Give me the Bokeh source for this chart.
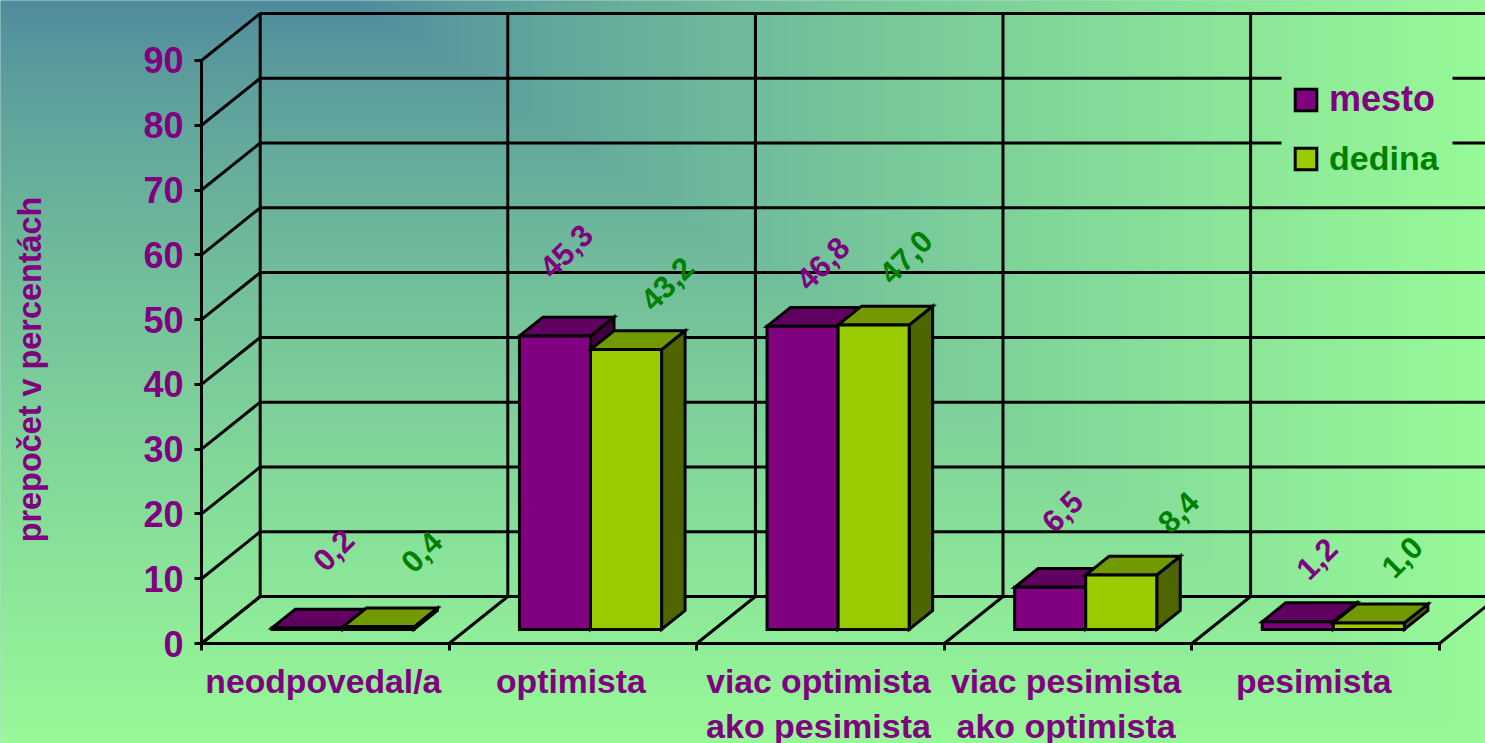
import numpy as np
from bokeh.embed import file_html
from bokeh.resources import INLINE
from bokeh.plotting import figure
from bokeh.models import FixedTicker, Legend, LegendItem, ColumnDataSource
from bokeh.core.properties import value

# ---- data ----
categories = ["neodpovedal/a", "optimista", "viac optimista\nako pesimista",
              "viac pesimista\nako optimista", "pesimista"]
mesto = [0.2, 45.3, 46.8, 6.5, 1.2]
dedina = [0.4, 43.2, 47.0, 8.4, 1.0]
value_ticks = [0, 10, 20, 30, 40, 50, 60, 70, 80, 90]
y_title = "prepočet v percentách"

# ---- layout: offsets of the value labels, in pixels ----
mesto_label_dx = [26, 11, 20, 12, 19]
mesto_label_dy = [-78, -85, -63, -76, -63]
dedina_label_dx = [43, 41, 32, 57, 33]
dedina_label_dy = [-75, -66, -68, -63, -66]

# ---- colours ----
PURPLE, GREEN = "#800080", "#008000"
MESTO = ("#800080", "#600060", "#400040")      # front, top, side
DEDINA = ("#99CC00", "#739900", "#4D6600")
FONT = value("Liberation Sans")

# ---- scales: page pixels of the reference <-> data ----
X0, XU = 201.0, 247.6          # pixel of category 0, pixels per category
Y0, YU = 643.0, 6.478          # pixel of value 0, pixels per value unit
DX, DY = 58.7 / XU, 47.0 / YU  # shift of the back wall, in data units
PAGE_W, PAGE_H = 1485, 743
LEGEND_GAP = (1281, 1452)      # the grid lines stop behind the legend
LEGEND_VALUES = (70, 80)
LABEL_SHIFT = -2 / XU          # the category labels sit a little left of the centre


def px_x(px):
    return (px - X0) / XU


def px_y(py):
    return (Y0 - py) / YU


def proj(cat, val, depth):
    return cat + depth * DX, val + depth * DY


p = figure(width=PAGE_W, height=PAGE_H, output_backend="svg", toolbar_location=None,
           x_range=(px_x(0), px_x(PAGE_W)), y_range=(px_y(PAGE_H), px_y(0)), min_border=0)
p.grid.visible = False
p.outline_line_color = None
p.border_fill_color = "#70B89A"
p.background_fill_color = "#70B89A"

# ---- background gradient ----
GW, GH = 371, 186
xx, yy = np.meshgrid((np.arange(GW) + .5) / GW * PAGE_W, (np.arange(GH) + .5) / GH * PAGE_H)
t = np.maximum(np.clip((xx - 350) / (PAGE_W - 350), 0, 1), yy / PAGE_H) ** 0.75
start, end = np.array([78, 135, 158]), np.array([152, 250, 152])
rgb = start[None, None, :] + (end - start)[None, None, :] * t[:, :, None]
img = np.zeros((GH, GW), dtype=np.uint32)
view = img.view(dtype=np.uint8).reshape((GH, GW, 4))
view[:, :, :3] = rgb[::-1].astype(np.uint8)
view[:, :, 3] = 255
BLEED = 6
p.image_rgba(image=[img], x=px_x(-BLEED), y=px_y(PAGE_H + BLEED),
             dw=(PAGE_W + 2 * BLEED) / XU, dh=(PAGE_H + 2 * BLEED) / YU)

# ---- walls and floor ----
LW = 3
n = len(categories)
xs0, ys0, xs1, ys1 = [], [], [], []


def add_seg(s, e):
    xs0.append(s[0]); ys0.append(s[1]); xs1.append(e[0]); ys1.append(e[1])


for v in value_ticks:
    a, b = proj(0, v, 0), proj(0, v, 1)         # side wall
    c = proj(n, v, 1)                           # back wall
    add_seg(a, b)
    if v in LEGEND_VALUES:
        add_seg(b, (px_x(LEGEND_GAP[0]), b[1]))
        add_seg((px_x(LEGEND_GAP[1]), b[1]), c)
    else:
        add_seg(b, c)
for i in range(n + 1):
    a, b = proj(i, 0, 0), proj(i, 0, 1)         # floor
    c = proj(i, value_ticks[-1], 1)             # back wall
    add_seg(a, b)
    add_seg(b, c)
p.segment(xs0, ys0, xs1, ys1, line_color="black", line_width=LW)

# ---- bars ----
D_FRONT, D_BACK = 0.30, 0.70
HALF = 0.287


def bar_faces(vals, c_from, c_to):
    front, top, side = ([], []), ([], []), ([], [])
    for i, v in enumerate(vals):
        l, r = i + .5 + c_from, i + .5 + c_to
        for face, corners in (
            (front, [(l, 0, D_FRONT), (r, 0, D_FRONT), (r, v, D_FRONT), (l, v, D_FRONT)]),
            (top, [(l, v, D_FRONT), (r, v, D_FRONT), (r, v, D_BACK), (l, v, D_BACK)]),
            (side, [(r, 0, D_FRONT), (r, 0, D_BACK), (r, v, D_BACK), (r, v, D_FRONT)]),
        ):
            pts = [proj(*k) for k in corners]
            face[0].append([q[0] for q in pts])
            face[1].append([q[1] for q in pts])
    return front, top, side


def draw_series(vals, colours, c_from, c_to):
    front, top, side = bar_faces(vals, c_from, c_to)
    kw = dict(line_color="black", line_width=3, line_join="miter")
    p.patches(side[0], side[1], fill_color=colours[2], **kw)
    p.patches(top[0], top[1], fill_color=colours[1], **kw)
    return p.patches(front[0], front[1], fill_color=colours[0], **kw)


r_mesto = draw_series(mesto, MESTO, -HALF, 0)
r_dedina = draw_series(dedina, DEDINA, 0, HALF)


# ---- value labels ----
def labels(vals, colour, c_mid, dx, dy):
    pts = [proj(i + .5 + c_mid, v, D_FRONT) for i, v in enumerate(vals)]
    src = ColumnDataSource(dict(x=[q[0] for q in pts], y=[q[1] for q in pts],
                                t=[f"{v:.1f}".replace(".", ",") for v in vals], dx=dx, dy=dy))
    p.text("x", "y", "t", source=src, x_offset="dx", y_offset="dy", angle=np.pi / 4,
           text_font=FONT, text_font_style="bold", text_font_size="31px", text_color=colour,
           text_align="center", text_baseline="middle")


labels(mesto, PURPLE, -HALF / 2, mesto_label_dx, mesto_label_dy)
labels(dedina, GREEN, HALF / 2, dedina_label_dx, dedina_label_dy)

# ---- y title ----
p.text([px_x(29)], [px_y(369)], [y_title], angle=np.pi / 2, text_font=FONT, text_font_style="bold",
       text_font_size="32.4px", text_color=PURPLE, text_align="center", text_baseline="middle")

# ---- axes ----
ax = p.yaxis[0]
ax.fixed_location = 0
ax.bounds = (value_ticks[0], value_ticks[-1])
ax.ticker = FixedTicker(ticks=value_ticks)
ax.axis_line_color = "black"; ax.axis_line_width = LW
ax.major_tick_line_color = "black"; ax.major_tick_line_width = LW
ax.major_tick_in = 0; ax.major_tick_out = 7
ax.minor_tick_line_color = None
ax.major_label_standoff = 11
ax.major_label_text_font = "Liberation Sans"
ax.major_label_text_font_style = "bold"
ax.major_label_text_font_size = "36px"
ax.major_label_text_color = PURPLE

label_pos = [i + .5 + LABEL_SHIFT for i in range(n)]
ax = p.xaxis[0]
ax.fixed_location = 0
ax.bounds = (0, n)
ax.ticker = FixedTicker(ticks=label_pos, minor_ticks=list(range(n + 1)))
ax.major_label_overrides = {x: c.split("\n")[0] for x, c in zip(label_pos, categories)}
ax.axis_line_color = "black"; ax.axis_line_width = LW
ax.major_tick_line_color = None
ax.major_tick_in = 0; ax.major_tick_out = 0
ax.minor_tick_line_color = "black"; ax.minor_tick_line_width = LW
ax.minor_tick_in = 0; ax.minor_tick_out = 7
ax.major_label_standoff = 11
ax.major_label_text_font = "Liberation Sans"
ax.major_label_text_font_style = "bold"
ax.major_label_text_font_size = "33.7px"
ax.major_label_text_color = PURPLE

# second lines of the two-line category labels
second = [(x, c.split("\n")[1]) for x, c in zip(label_pos, categories) if "\n" in c]
p.text([s[0] for s in second], [px_y(725)] * len(second), [s[1] for s in second], text_font=FONT,
       text_font_style="bold", text_font_size="34px", text_color=PURPLE, text_align="center",
       text_baseline="middle")

# ---- legends (one per series, their text colours differ) ----
for name, rend, colour, centre, size in (("mesto", r_mesto, PURPLE, 99.5, "36px"),
                                         ("dedina", r_dedina, GREEN, 158.5, "34px")):
    box_h = 41
    lg = Legend(items=[LegendItem(label=name, renderers=[rend])],
                location=(1292, PAGE_H - (centre + box_h / 2)),
                padding=0, margin=0, spacing=0, glyph_width=27, glyph_height=27, label_standoff=10,
                label_height=box_h,
                label_text_font="Liberation Sans", label_text_font_style="bold",
                label_text_font_size=size, label_text_color=colour,
                border_line_color=None, background_fill_alpha=0)
    p.add_layout(lg, "center")

open("out.html", "w").write(file_html(p, INLINE))
